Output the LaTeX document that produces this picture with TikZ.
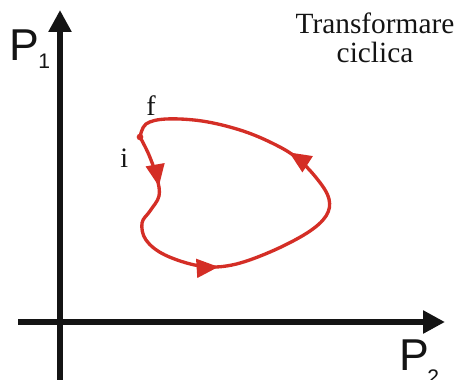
\documentclass[tikz,border=0pt]{standalone}
\usepackage{fontspec}
\setmainfont{Liberation Serif}
\newfontfamily\axisfont{Liberation Sans}
\usepackage{xcolor}
\definecolor{cycred}{HTML}{D42E26}
\definecolor{axisink}{HTML}{141414}
\usepackage{tikz}
\usetikzlibrary{arrows.meta, positioning, decorations.markings}

\begin{document}
\begin{tikzpicture}[
  x=0.02cm, y=-0.02cm,
  axis/.style={
    draw=axisink, line width=3.4pt,
    -{Triangle[length=12.5pt, width=12.5pt]}
  },
  cycle/.style={
    draw=cycred, line width=1.9pt,
    postaction={decorate},
    decoration={markings,
      mark=at position 0.095 with {\arrow{Triangle[length=12.5pt, width=10.5pt]}},
      mark=at position 0.345 with {\arrow{Triangle[length=12.5pt, width=10.5pt]}},
      mark=at position 0.705 with {\arrow{Triangle[length=12.5pt, width=10.5pt]}}}
  },
  axlabel/.style={font=\axisfont\fontsize{25.4}{28}\selectfont, text=axisink, inner sep=0pt},
  axsub/.style={font=\axisfont\fontsize{12}{14}\selectfont, text=axisink, inner sep=0pt},
  ptlabel/.style={font=\fontsize{16}{18}\selectfont, text=axisink, inner sep=0pt},
  title/.style={font=\fontsize{16.7}{18}\selectfont, text=axisink, inner sep=0pt}
]
  \useasboundingbox (0,0) rectangle (459,379);

  % axes
  \coordinate (ybot) at (60,385);
  \coordinate (ytop) at (60,10);
  \coordinate (xleft) at (18,322);
  \coordinate (xright) at (445,322);
  \draw[axis] (ybot) -- (ytop);
  \draw[axis] (xleft) -- (xright);

  \node[axlabel, anchor=base west] (p1) at (9,60) {P};
  \node[axsub, anchor=base west] (p1sub) at (38,68) {1};
  \node[axlabel, anchor=base west] (p2) at (399,370) {P};
  \node[axsub, anchor=base west] (p2sub) at (427,384) {2};

  \node[title, anchor=base] (ttl) at (375,33) {Transformare};
  \node[title, anchor=base] (ttl2) at (375,62) {ciclica};

  % the cycle
  \coordinate (i) at (140,137);
  \draw[cycle] plot[smooth, tension=0.6] coordinates {
    (140,137) (149,155) (157,178) (159,196) (150,211) (142,223)
    (146,240) (165,255) (200,266) (232,265) (270,252) (307,233)
    (326,216) (329,199) (318,180) (297,158) (272,143) (240,130)
    (202,121) (166,119) (146,124) (140,137)};
  \fill[cycred] (i) circle (1.9pt);

  \node[ptlabel, anchor=base west] (f) at (146,115) {f};
  \node[ptlabel, anchor=base west] (ilbl) at (120,167) {i};
\end{tikzpicture}
\end{document}
